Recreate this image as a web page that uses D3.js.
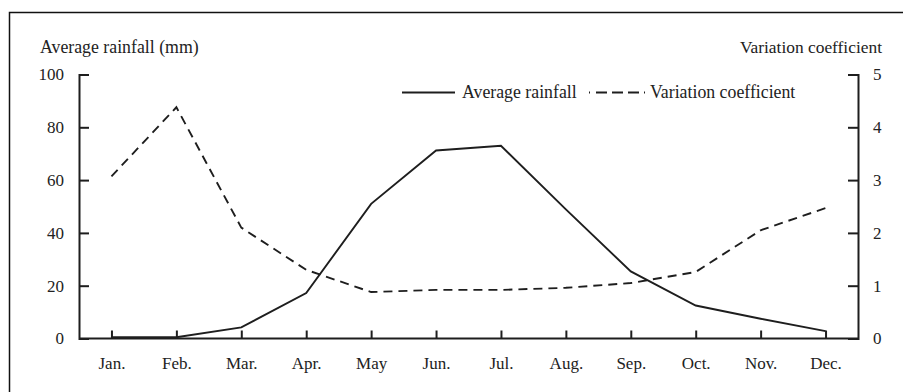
<!DOCTYPE html>
<html><head><meta charset="utf-8">
<script src="https://cdn.jsdelivr.net/npm/d3@7"></script>
<style>body{margin:0;background:#fff}svg{display:block}text{font-family:"Liberation Serif","DejaVu Serif",serif;fill:#222}</style>
</head><body><svg id="c" width="903" height="392"></svg>
<script>
const months = ["Jan.","Feb.","Mar.","Apr.","May","Jun.","Jul.","Aug.","Sep.","Oct.","Nov.","Dec."];
const rainfall = [0.5,0.5,4.2,17.2,51,71.2,73,48.9,25.4,12.5,7.5,2.8];
const variation = [3.07,4.38,2.1,1.3,0.88,0.92,0.92,0.96,1.05,1.26,2.05,2.47];
const leftTicks = [0,20,40,60,80,100];
const rightTicks = [0,1,2,3,4,5];

const svg = d3.select("#c");
const L = 79, R = 858, T = 74.5, B = 338.5;
const x = d3.scalePoint().domain(months).range([L,R]).padding(0.5);
const yL = d3.scaleLinear().domain([0,100]).range([B,T]);
const yR = d3.scaleLinear().domain([0,5]).range([B,T]);
const ink = "#1e1e1e";

// frame
svg.append("rect").attr("x",9.5).attr("y",12.5).attr("width",1000).attr("height",1000)
  .attr("fill","none").attr("stroke","#111").attr("stroke-width",1.5);

// left axis
const gl = svg.append("g").attr("transform",`translate(${L},0)`)
  .call(d3.axisLeft(yL).tickValues(leftTicks).tickSizeInner(-10).tickSizeOuter(-10).tickPadding(15));
// right axis
const gr = svg.append("g").attr("transform",`translate(${R},0)`)
  .call(d3.axisRight(yR).tickValues(rightTicks).tickFormat(d3.format("d")).tickSizeInner(-10).tickSizeOuter(-10).tickPadding(15));
// bottom axis
const gb = svg.append("g").attr("transform",`translate(0,${B})`)
  .call(d3.axisBottom(x).tickSizeInner(-8).tickSizeOuter(0).tickPadding(18));
[gl,gr,gb].forEach(g=>{
  g.selectAll("path,line").attr("stroke",ink).attr("stroke-width",2);
  g.selectAll("text").style("font-family",'"Liberation Serif",serif').style("font-size","17px").attr("fill","#222");
});
gb.select(".domain").attr("d",`M${L},0H${R}`);
gl.selectAll(".tick").filter(d=>d===0).select("line").remove();
gr.selectAll(".tick").filter(d=>d===0).select("line").remove();

// axis titles
svg.append("text").attr("x",40).attr("y",53).style("font-size","17.8px").text("Average rainfall (mm)");
svg.append("text").attr("x",882).attr("y",53).attr("text-anchor","end").style("font-size","17.4px").text("Variation coefficient");

// lines
const lineR = d3.line().x((d,i)=>x(months[i])).y(d=>yL(d));
const lineV = d3.line().x((d,i)=>x(months[i])).y(d=>yR(d));
svg.append("path").datum(rainfall).attr("d",lineR).attr("fill","none").attr("stroke",ink).attr("stroke-width",1.9);
svg.append("path").datum(variation).attr("d",lineV).attr("fill","none").attr("stroke",ink).attr("stroke-width",1.9).attr("stroke-dasharray","9,6");

// legend
const ly = 92.5;
svg.append("line").attr("x1",402).attr("x2",455).attr("y1",ly).attr("y2",ly).attr("stroke",ink).attr("stroke-width",1.9);
svg.append("text").attr("x",462).attr("y",ly+5.5).style("font-size","17.8px").text("Average rainfall");
svg.append("line").attr("x1",589).attr("x2",646).attr("y1",ly).attr("y2",ly).attr("stroke",ink).attr("stroke-width",1.9).attr("stroke-dasharray","1,6,11,5,11,5,11,5");
svg.append("text").attr("x",650).attr("y",ly+5.5).style("font-size","17.8px").text("Variation coefficient");
</script></body></html>
